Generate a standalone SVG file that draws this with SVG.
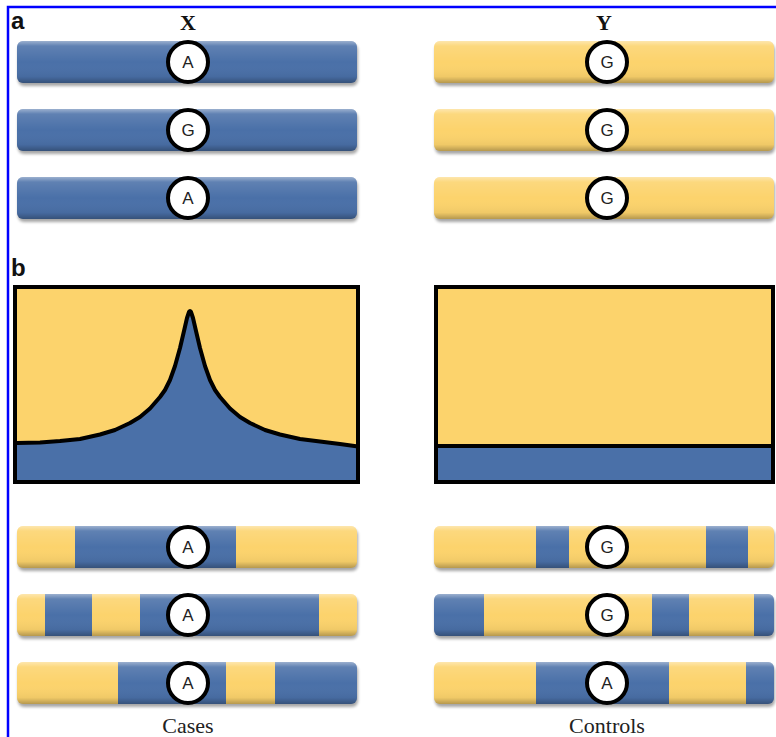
<svg xmlns="http://www.w3.org/2000/svg" width="776" height="737" viewBox="0 0 776 737">
<style>
.blue{fill:#4a70a8}
.yel{fill:#fcd36c}
.shade{fill:url(#shade)}
.shadow{fill:#000;opacity:0.35;filter:url(#blur)}
.allele{fill:#fff;stroke:#000;stroke-width:4}
.al{font-family:"Liberation Sans",Arial,sans-serif;font-size:17px;fill:#222;text-anchor:middle}
.panel{font-family:"Liberation Sans",Arial,sans-serif;font-size:24px;font-weight:bold;fill:#111}
.head{font-family:"Liberation Serif","Times New Roman",serif;font-size:22px;font-weight:bold;fill:#111;text-anchor:middle}
.foot{font-family:"Liberation Serif","Times New Roman",serif;font-size:22px;fill:#222;text-anchor:middle}
.frame{fill:none;stroke:#000;stroke-width:4}
.curve{fill:none;stroke:#000;stroke-width:4;stroke-linejoin:round}
</style>
<defs>
<linearGradient id="shade" x1="0" y1="0" x2="0" y2="1">
<stop offset="0" stop-color="#fff" stop-opacity="0.45"/>
<stop offset="0.12" stop-color="#fff" stop-opacity="0.12"/>
<stop offset="0.5" stop-color="#fff" stop-opacity="0"/>
<stop offset="0.85" stop-color="#000" stop-opacity="0.05"/>
<stop offset="1" stop-color="#000" stop-opacity="0.28"/>
</linearGradient>
<filter id="blur" x="-5%" y="-30%" width="110%" height="160%"><feGaussianBlur stdDeviation="1.6"/></filter>
<clipPath id="barclip"><rect x="0" y="0" width="340" height="42" rx="6"/></clipPath>
</defs>

<rect x="0" y="0" width="776" height="737" fill="#fff"/>
<polyline points="8,737 8,7 776,7" fill="none" stroke="#0000ff" stroke-width="2.5"/>

<g id="labels">
<text class="panel" x="11" y="29">a</text>
<text class="panel" x="11" y="276">b</text>
<text class="head" x="188" y="30">X</text>
<text class="head" x="604" y="30">Y</text>
<text class="foot" x="188" y="733">Cases</text>
<text class="foot" x="607" y="733">Controls</text>
</g>

<g id="x-bar-1" transform="translate(17,41)">
<rect class="shadow" x="1" y="3" width="340" height="42" rx="6"/>
<g clip-path="url(#barclip)"><rect class="blue" x="0" y="0" width="340" height="42"/><rect class="shade" x="0" y="0" width="340" height="42"/></g>
<circle class="allele" cx="171" cy="21" r="20"/><text class="al" x="171" y="27">A</text>
</g>
<g id="x-bar-2" transform="translate(17,109)">
<rect class="shadow" x="1" y="3" width="340" height="42" rx="6"/>
<g clip-path="url(#barclip)"><rect class="blue" x="0" y="0" width="340" height="42"/><rect class="shade" x="0" y="0" width="340" height="42"/></g>
<circle class="allele" cx="171" cy="21" r="20"/><text class="al" x="171" y="27">G</text>
</g>
<g id="x-bar-3" transform="translate(17,177)">
<rect class="shadow" x="1" y="3" width="340" height="42" rx="6"/>
<g clip-path="url(#barclip)"><rect class="blue" x="0" y="0" width="340" height="42"/><rect class="shade" x="0" y="0" width="340" height="42"/></g>
<circle class="allele" cx="171" cy="21" r="20"/><text class="al" x="171" y="27">A</text>
</g>

<g id="y-bar-1" transform="translate(434,41)">
<rect class="shadow" x="1" y="3" width="340" height="42" rx="6"/>
<g clip-path="url(#barclip)"><rect class="yel" x="0" y="0" width="340" height="42"/><rect class="shade" x="0" y="0" width="340" height="42"/></g>
<circle class="allele" cx="173" cy="21" r="20"/><text class="al" x="173" y="27">G</text>
</g>
<g id="y-bar-2" transform="translate(434,109)">
<rect class="shadow" x="1" y="3" width="340" height="42" rx="6"/>
<g clip-path="url(#barclip)"><rect class="yel" x="0" y="0" width="340" height="42"/><rect class="shade" x="0" y="0" width="340" height="42"/></g>
<circle class="allele" cx="173" cy="21" r="20"/><text class="al" x="173" y="27">G</text>
</g>
<g id="y-bar-3" transform="translate(434,177)">
<rect class="shadow" x="1" y="3" width="340" height="42" rx="6"/>
<g clip-path="url(#barclip)"><rect class="yel" x="0" y="0" width="340" height="42"/><rect class="shade" x="0" y="0" width="340" height="42"/></g>
<circle class="allele" cx="173" cy="21" r="20"/><text class="al" x="173" y="27">G</text>
</g>

<g id="cases-plot">
<rect class="yel" x="15" y="287" width="343" height="195"/>
<path class="blue" d="M15,443 L17,443 L40,442.4 L60,441 L80,439 L100,434.5 L115,430 L130,423 L140,417 L150,408.5 L160,397 L165,390 L170,380 L175,366 L180,348 L184,331 L187,318 L189,312 L190,311 L191,312 L193,318 L196,331 L200,348 L205,366 L210,380 L215,390 L220,397 L230,408.5 L240,417 L250,423 L265,430 L280,434.5 L300,439 L320,441.5 L340,444 L358,446.5 L358,482 L15,482 Z"/>
<path class="curve" d="M15,443 L17,443 L40,442.4 L60,441 L80,439 L100,434.5 L115,430 L130,423 L140,417 L150,408.5 L160,397 L165,390 L170,380 L175,366 L180,348 L184,331 L187,318 L189,312 L190,311 L191,312 L193,318 L196,331 L200,348 L205,366 L210,380 L215,390 L220,397 L230,408.5 L240,417 L250,423 L265,430 L280,434.5 L300,439 L320,441.5 L340,444 L358,446.5"/>
<rect class="frame" x="15" y="287" width="343" height="195"/>
</g>

<g id="controls-plot">
<rect class="yel" x="436" y="287" width="337" height="195"/>
<rect class="blue" x="436" y="446" width="337" height="36"/>
<line x1="436" y1="446" x2="773" y2="446" stroke="#000" stroke-width="4"/>
<rect class="frame" x="436" y="287" width="337" height="195"/>
</g>

<g id="case-hap-1" transform="translate(17,526)">
<rect class="shadow" x="1" y="3" width="340" height="42" rx="6"/>
<g clip-path="url(#barclip)">
<rect class="yel" x="0" y="0" width="58" height="42"/><rect class="blue" x="58" y="0" width="161" height="42"/><rect class="yel" x="219" y="0" width="121" height="42"/>
<rect class="shade" x="0" y="0" width="340" height="42"/></g>
<circle class="allele" cx="171" cy="21" r="20"/><text class="al" x="171" y="27">A</text>
</g>
<g id="case-hap-2" transform="translate(17,594)">
<rect class="shadow" x="1" y="3" width="340" height="42" rx="6"/>
<g clip-path="url(#barclip)">
<rect class="yel" x="0" y="0" width="28" height="42"/><rect class="blue" x="28" y="0" width="47" height="42"/><rect class="yel" x="75" y="0" width="48" height="42"/><rect class="blue" x="123" y="0" width="179" height="42"/><rect class="yel" x="302" y="0" width="38" height="42"/>
<rect class="shade" x="0" y="0" width="340" height="42"/></g>
<circle class="allele" cx="171" cy="21" r="20"/><text class="al" x="171" y="27">A</text>
</g>
<g id="case-hap-3" transform="translate(17,662)">
<rect class="shadow" x="1" y="3" width="340" height="42" rx="6"/>
<g clip-path="url(#barclip)">
<rect class="yel" x="0" y="0" width="101" height="42"/><rect class="blue" x="101" y="0" width="108" height="42"/><rect class="yel" x="209" y="0" width="49" height="42"/><rect class="blue" x="258" y="0" width="82" height="42"/>
<rect class="shade" x="0" y="0" width="340" height="42"/></g>
<circle class="allele" cx="171" cy="21" r="20"/><text class="al" x="171" y="27">A</text>
</g>

<g id="control-hap-1" transform="translate(434,526)">
<rect class="shadow" x="1" y="3" width="340" height="42" rx="6"/>
<g clip-path="url(#barclip)">
<rect class="yel" x="0" y="0" width="102" height="42"/><rect class="blue" x="102" y="0" width="33" height="42"/><rect class="yel" x="135" y="0" width="137" height="42"/><rect class="blue" x="272" y="0" width="42" height="42"/><rect class="yel" x="314" y="0" width="26" height="42"/>
<rect class="shade" x="0" y="0" width="340" height="42"/></g>
<circle class="allele" cx="173" cy="21" r="20"/><text class="al" x="173" y="27">G</text>
</g>
<g id="control-hap-2" transform="translate(434,594)">
<rect class="shadow" x="1" y="3" width="340" height="42" rx="6"/>
<g clip-path="url(#barclip)">
<rect class="blue" x="0" y="0" width="50" height="42"/><rect class="yel" x="50" y="0" width="168" height="42"/><rect class="blue" x="218" y="0" width="37" height="42"/><rect class="yel" x="255" y="0" width="65" height="42"/><rect class="blue" x="320" y="0" width="20" height="42"/>
<rect class="shade" x="0" y="0" width="340" height="42"/></g>
<circle class="allele" cx="173" cy="21" r="20"/><text class="al" x="173" y="27">G</text>
</g>
<g id="control-hap-3" transform="translate(434,662)">
<rect class="shadow" x="1" y="3" width="340" height="42" rx="6"/>
<g clip-path="url(#barclip)">
<rect class="yel" x="0" y="0" width="102" height="42"/><rect class="blue" x="102" y="0" width="133" height="42"/><rect class="yel" x="235" y="0" width="77" height="42"/><rect class="blue" x="312" y="0" width="28" height="42"/>
<rect class="shade" x="0" y="0" width="340" height="42"/></g>
<circle class="allele" cx="173" cy="21" r="20"/><text class="al" x="173" y="27">A</text>
</g>

<g id="connectors"></g>
</svg>
